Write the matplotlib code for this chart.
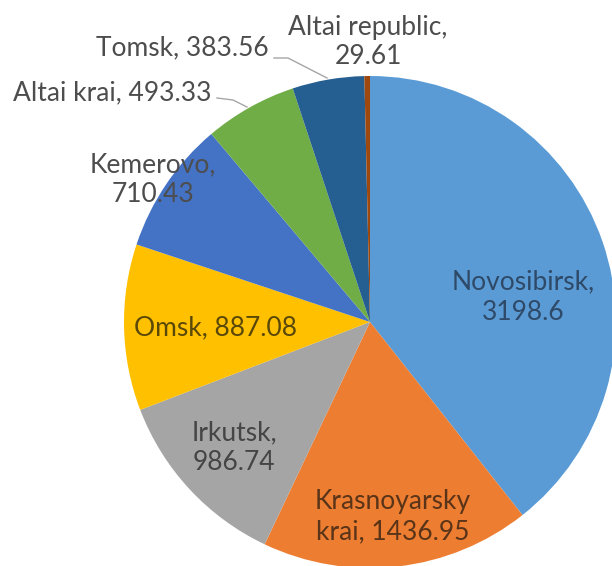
import matplotlib.pyplot as plt

# Regions and values
regions = ['Novosibirsk', 'Krasnoyarsky krai', 'Irkutsk', 'Omsk', 'Kemerovo',
           'Altai krai', 'Tomsk', 'Altai republic']
values = [3198.6, 1436.95, 986.74, 887.08, 710.43, 493.33, 383.56, 29.61]
colors = ['#5B9BD5', '#ED7D31', '#A5A5A5', '#FFC000', '#4472C4',
          '#70AD47', '#255E91', '#9E480E']

# label text layout (pixel coords, origin top-left)
label_text = ['Novosibirsk,\n3198.6', 'Krasnoyarsky\nkrai, 1436.95', 'Irkutsk,\n986.74',
              'Omsk, 887.08', 'Kemerovo,\n710.43', 'Altai krai, 493.33',
              'Tomsk, 383.56', 'Altai republic,\n29.61']
label_pos = [(523, 297), (393, 517), (234, 448), (215, 328), (153, 180),
             (112, 93), (182, 48), (368, 42)]
label_col = ['#2E4A68', '#5A3418', '#454545', '#5A4808', '#4D4D4D',
             '#4D4D4D', '#4D4D4D', '#4D4D4D']

W, H = 612, 566
cx, cy, R = 370, 322, 246

fig = plt.figure(figsize=(W / 100, H / 100), dpi=100)
ax = fig.add_axes([0, 0, 1, 1])

ax.pie(values, colors=colors, startangle=90, counterclock=False,
       center=(cx, H - cy), radius=R, frame=True,
       wedgeprops=dict(linewidth=0))
ax.set_xlim(0, W)
ax.set_ylim(0, H)
ax.set_aspect('equal')
ax.axis('off')

for txt, (px, py), c in zip(label_text, label_pos, label_col):
    ax.text(px, H - py, txt, ha='center', va='center', fontsize=19,
            family='Lato', color=c, linespacing=1.25)

# leader lines
ax.plot([274, 288, 327], [H - 58, H - 58, H - 78], color='#A6A6A6', lw=1)
ax.plot([217, 233, 247], [H - 98, H - 100, H - 107], color='#A6A6A6', lw=1)

fig.savefig('out.png', dpi=100)
